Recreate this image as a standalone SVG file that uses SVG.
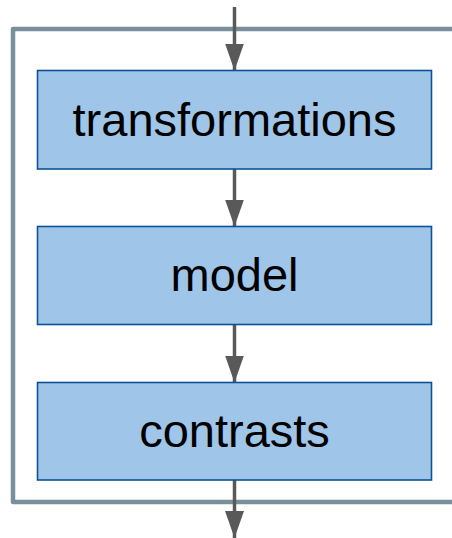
<svg xmlns="http://www.w3.org/2000/svg" width="452" height="538" viewBox="0 0 452 538">
  <defs>
    <style>
      .box { fill: #9fc5e8; stroke: #0b5394; stroke-width: 1.6; }
      .label { font-family: "Liberation Sans", Arial, sans-serif; font-size: 47px; fill: #000; text-anchor: middle; }
      .edge { stroke: #595959; stroke-width: 3.5; fill: none; }
      .frame { stroke: #78909c; stroke-width: 4.5; fill: none; stroke-linejoin: round; }
    </style>
    <marker id="head" viewBox="0 0 27 19" refX="27" refY="9.5" markerWidth="27" markerHeight="19" markerUnits="userSpaceOnUse" orient="auto">
      <path d="M0,0 L27,9.5 L0,19 Z" fill="#595959"/>
    </marker>
  </defs>

  <!-- enclosing frame, open on the right -->
  <path class="frame" d="M460,29 L13,29 L13,502 L460,502"/>

  <g id="connectors">
    <line class="edge" x1="234.5" y1="7" x2="234.5" y2="70.5" marker-end="url(#head)"/>
    <line class="edge" x1="234.5" y1="169" x2="234.5" y2="226.5" marker-end="url(#head)"/>
    <line class="edge" x1="234.5" y1="324.5" x2="234.5" y2="382.5" marker-end="url(#head)"/>
    <line class="edge" x1="234.5" y1="480" x2="234.5" y2="538" marker-end="url(#head)"/>
  </g>

  <g id="transformations">
    <rect class="box" x="37.5" y="70.5" width="394" height="98.5"/>
    <text class="label" x="234.5" y="136">transformations</text>
  </g>

  <g id="model">
    <rect class="box" x="37.5" y="226.5" width="394" height="98"/>
    <text class="label" x="234.5" y="291">model</text>
  </g>

  <g id="contrasts">
    <rect class="box" x="37.5" y="382.5" width="394" height="97.5"/>
    <text class="label" x="234.5" y="447">contrasts</text>
  </g>
</svg>
